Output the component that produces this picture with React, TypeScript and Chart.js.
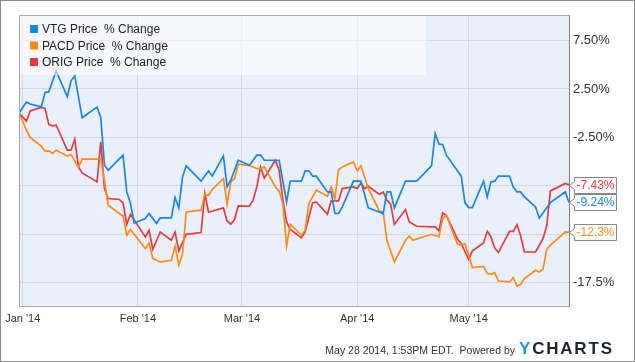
import React, { useEffect, useRef } from 'react';
import { Chart, registerables } from 'chart.js';

Chart.register(...registerables);

const FONT = '"Liberation Sans", Arial, Helvetica, sans-serif';

// x values are calendar days counted from Dec 31, 2013 (day 0)
const seriesNames = ['VTG Price  % Change', 'PACD Price  % Change', 'ORIG Price  % Change'];
const seriesColors = ['#1a86e4', '#ff8a12', '#e8393e'];
const endLabels = ['-9.24%', '-12.3%', '-7.43%'];

const monthTickDays = [1, 32, 60, 91, 121];
const monthTickLabels = ["Jan '14", "Feb '14", "Mar '14", "Apr '14", "May '14"];

const yTickValues = [-17.5, -12.5, -7.5, -2.5, 2.5, 7.5];
const yTickLabels = ['-17.5%', '-12.5%', '-7.50%', '-2.50%', '2.50%', '7.50%'];

const vtgDays = [0, 2, 3, 6, 7, 8, 10, 13, 14, 15, 17, 21, 22, 23, 24, 28, 29, 30, 31, 34, 35, 37, 38, 41, 42, 43, 44, 45, 49, 51, 52, 55, 56, 57, 59, 62, 64, 65, 66, 70, 72, 73, 76, 77, 78, 79, 80, 83, 84, 85, 86, 87, 90, 92, 94, 98, 99, 100, 101, 104, 107, 111, 112, 113, 114, 115, 119, 120, 121, 122, 125, 126, 127, 128, 129, 132, 133, 134, 135, 136, 139, 140, 143, 147, 148];
const vtgPct = [0, 1.14, 0.95, 0.65, 2.14, 2.2, 4.35, 1.69, 3.35, 3.86, -0.48, 0.62, -0.45, -5.38, -5.9, -4.35, -8.15, -9.35, -11.36, -10.9, -10.38, -11.42, -10.84, -10.84, -8.73, -9.8, -6.59, -5.45, -7.04, -5.97, -6.52, -4.42, -7.6, -6.94, -4.87, -5.38, -4.35, -4.35, -4.87, -4.87, -9.18, -7.04, -7.04, -5.97, -5.97, -6.52, -6.52, -8.15, -8.15, -10.38, -10.38, -9.7, -7.04, -7.04, -9.8, -10.38, -8.15, -8.15, -9.8, -7.04, -7.04, -5.45, -2.1, -3.21, -3.24, -4.35, -6.52, -9.25, -9.77, -9.77, -7.04, -8.66, -7.11, -7.04, -6.52, -6.52, -7.63, -8.15, -8.15, -8.66, -9.7, -10.87, -9.25, -8.15, -9.24];

const pacdDays = [0, 2, 3, 6, 7, 8, 9, 10, 13, 14, 16, 17, 22, 23, 24, 27, 28, 29, 30, 34, 35, 36, 38, 41, 42, 43, 44, 45, 49, 50, 51, 52, 55, 56, 57, 58, 59, 62, 64, 65, 66, 69, 70, 71, 72, 73, 76, 77, 78, 80, 83, 84, 85, 86, 87, 90, 91, 92, 94, 97, 98, 99, 101, 104, 105, 106, 111, 113, 114, 115, 118, 119, 120, 122, 125, 126, 127, 128, 129, 132, 133, 134, 135, 136, 139, 140, 141, 142, 143, 147, 148];
const pacdPct = [0, -1.76, -2.52, -3.42, -3.93, -3.9, -4.17, -3.83, -4.45, -4.28, -5.62, -4.76, -4.76, -7.0, -9.52, -10.38, -10.66, -12.63, -12.04, -14.0, -13.43, -15.04, -15.39, -15.22, -13.74, -15.73, -14.6, -10.22, -10.04, -8.42, -8.49, -7.9, -6.76, -9.42, -7.11, -6.76, -5.28, -5.42, -5.73, -5.73, -5.56, -7.63, -8.07, -9.35, -13.74, -11.49, -12.63, -12.11, -9.35, -7.97, -8.59, -7.63, -8.83, -5.83, -5.56, -5.04, -5.97, -5.45, -7.8, -10.14, -10.22, -13.15, -15.39, -13.15, -12.73, -13.15, -12.53, -12.8, -10.9, -10.56, -13.56, -13.66, -13.49, -15.97, -15.84, -16.59, -16.67, -16.49, -17.36, -17.46, -17.0, -17.88, -17.7, -17.11, -16.25, -16.43, -16.15, -14.11, -13.66, -12.29, -12.3];

const origDays = [0, 2, 3, 6, 7, 8, 9, 10, 13, 14, 15, 16, 17, 21, 22, 23, 24, 27, 28, 29, 30, 34, 35, 36, 38, 41, 42, 43, 45, 49, 50, 51, 55, 56, 57, 58, 59, 62, 63, 64, 65, 66, 69, 70, 71, 72, 73, 76, 77, 79, 80, 83, 84, 86, 87, 90, 91, 92, 93, 94, 97, 98, 99, 100, 101, 104, 105, 107, 111, 112, 113, 114, 115, 118, 119, 121, 122, 125, 126, 127, 128, 129, 132, 133, 134, 135, 136, 139, 140, 141, 142, 143, 147, 148];
const origPct = [0, -0.83, 0.24, 0.59, 0.49, -1.17, -1.31, -1.24, -3.83, -3.83, -2.69, -5.56, -6.18, -7.11, -2.97, -7.8, -8.83, -8.93, -9.28, -11.49, -10.46, -12.8, -12.11, -14.1, -12.29, -13.15, -12.29, -14.25, -12.53, -12.35, -8.31, -10.25, -9.8, -11.15, -11.49, -11.0, -9.6, -9.63, -9.0, -7.63, -5.56, -6.7, -4.87, -5.9, -9.0, -11.25, -12.04, -12.9, -12.29, -9.28, -9.18, -10.46, -9.08, -9.08, -7.8, -7.63, -7.8, -7.22, -7.8, -7.56, -8.42, -8.15, -9.0, -9.42, -11.52, -9.97, -11.25, -11.7, -11.77, -11.77, -12.18, -10.32, -10.56, -13.04, -13.49, -15.14, -14.25, -13.43, -12.22, -12.8, -13.94, -14.42, -12.22, -12.22, -11.52, -12.7, -14.36, -14.36, -13.66, -12.97, -11.67, -8.04, -7.28, -7.43];

const footerText = 'May 28 2014, 1:53PM EDT.  Powered by';

const toPoints = (days: number[], vals: number[]) => days.map((d, i) => ({ x: d, y: vals[i] }));

const decorPlugin = {
  id: 'decor',
  beforeDraw(chart: any) {
    const { ctx, chartArea: a, width, height } = chart;
    ctx.save();
    ctx.fillStyle = '#ffffff';
    ctx.fillRect(0, 0, width, height);
    ctx.fillStyle = '#eaf0fb';
    ctx.fillRect(a.left, a.top, a.right - a.left, a.bottom - a.top);
    ctx.restore();
  },
  afterDatasetsDraw(chart: any) {
    const { ctx, chartArea: a } = chart;
    ctx.save();
    // legend panel
    ctx.fillStyle = 'rgba(255,255,255,0.55)';
    ctx.fillRect(a.left, a.top, 407, 60);
    ctx.font = `12px ${FONT}`;
    ctx.textBaseline = 'alphabetic';
    ctx.textAlign = 'left';
    seriesNames.forEach((name, i) => {
      const base = a.top + 18 + i * 16.5;
      ctx.fillStyle = seriesColors[i];
      ctx.fillRect(a.left + 11, base - 8, 8, 8);
      ctx.fillStyle = '#222';
      ctx.fillText(name, a.left + 23, base);
    });
    // frame
    ctx.lineWidth = 1;
    ctx.strokeStyle = '#a8a8a8';
    ctx.beginPath();
    ctx.moveTo(a.left + 0.5, a.bottom);
    ctx.lineTo(a.left + 0.5, a.top + 0.5);
    ctx.lineTo(a.right, a.top + 0.5);
    ctx.moveTo(a.left, a.bottom - 0.5);
    ctx.lineTo(a.right, a.bottom - 0.5);
    ctx.stroke();
    ctx.strokeStyle = '#808080';
    ctx.beginPath();
    ctx.moveTo(a.right + 0.5, a.top);
    ctx.lineTo(a.right + 0.5, a.bottom);
    ctx.stroke();
    ctx.restore();
  },
  afterDraw(chart: any) {
    const { ctx, chartArea: a, width, height } = chart;
    const yScale = chart.scales.y;
    ctx.save();
    // end value flags
    ctx.font = `12px ${FONT}`;
    ctx.textBaseline = 'middle';
    ctx.textAlign = 'left';
    chart.data.datasets.forEach((ds: any, i: number) => {
      const last = ds.data[ds.data.length - 1];
      const cy = Math.round(yScale.getPixelForValue(last.y)) + 0.5;
      const x0 = a.right + 5.5;
      const w = 42;
      const h = 16;
      ctx.beginPath();
      ctx.moveTo(x0, cy - h / 2);
      ctx.lineTo(x0 + w, cy - h / 2);
      ctx.lineTo(x0 + w, cy + h / 2);
      ctx.lineTo(x0, cy + h / 2);
      ctx.lineTo(x0, cy + 4);
      ctx.lineTo(a.right + 0.5, cy);
      ctx.lineTo(x0, cy - 4);
      ctx.closePath();
      ctx.fillStyle = '#ffffff';
      ctx.fill();
      ctx.strokeStyle = '#888888';
      ctx.lineWidth = 1;
      ctx.stroke();
      ctx.fillStyle = seriesColors[i];
      ctx.fillText(endLabels[i], x0 + 2, cy + 0.5);
    });
    // footer
    ctx.font = `10.5px ${FONT}`;
    ctx.fillStyle = '#333';
    ctx.textAlign = 'right';
    ctx.textBaseline = 'alphabetic';
    ctx.fillText(footerText, 515, 354);
    // logo
    ctx.font = `bold 17px ${FONT}`;
    ctx.textAlign = 'left';
    let lx = 519;
    'YCHARTS'.split('').forEach((ch, i) => {
      ctx.fillStyle = i === 0 ? '#1e90e8' : '#1c2431';
      ctx.fillText(ch, lx, 354);
      lx += ctx.measureText(ch).width + 1.8;
    });
    // outer border
    ctx.strokeStyle = '#8c8c8c';
    ctx.lineWidth = 1;
    ctx.strokeRect(0.5, 0.5, width - 1, height - 1);
    ctx.restore();
  },
};

export default function App() {
  const ref = useRef<HTMLCanvasElement | null>(null);

  useEffect(() => {
    document.body.style.margin = '0';
    const canvas = ref.current;
    if (!canvas) return;
    const gridColor = '#d9d9d9';
    const chart = new Chart(canvas, {
      type: 'line',
      data: {
        datasets: [
          { label: seriesNames[0], data: toPoints(vtgDays, vtgPct), borderColor: seriesColors[0] },
          { label: seriesNames[1], data: toPoints(pacdDays, pacdPct), borderColor: seriesColors[1] },
          { label: seriesNames[2], data: toPoints(origDays, origPct), borderColor: seriesColors[2] },
        ],
      },
      options: {
        animation: false,
        responsive: false,
        maintainAspectRatio: false,
        devicePixelRatio: 1,
        layout: { padding: { left: 19, top: 15, right: 0, bottom: 0 } },
        plugins: { legend: { display: false }, tooltip: { enabled: false } },
        elements: {
          point: { radius: 0 },
          line: { borderWidth: 1.7, tension: 0, fill: false },
        },
        scales: {
          x: {
            type: 'linear',
            min: 0,
            max: 148,
            afterBuildTicks: (s: any) => {
              s.ticks = monthTickDays.map((v) => ({ value: v }));
            },
            afterFit: (s: any) => {
              s.height = 55;
            },
            grid: { color: gridColor, drawTicks: false },
            border: { display: false },
            ticks: {
              autoSkip: false,
              maxRotation: 0,
              padding: 5,
              color: '#333',
              font: { family: FONT, size: 11 },
              callback: (v: any) => {
                const k = monthTickDays.indexOf(Number(v));
                return k >= 0 ? monthTickLabels[k] : '';
              },
            },
          },
          y: {
            position: 'right',
            min: -20.05,
            max: 10.15,
            afterBuildTicks: (s: any) => {
              s.ticks = yTickValues.map((v) => ({ value: v }));
            },
            afterFit: (s: any) => {
              s.width = 66;
            },
            grid: { color: gridColor, drawTicks: false },
            border: { display: false },
            ticks: {
              padding: 4,
              color: '#333',
              font: { family: FONT, size: 13 },
              callback: (v: any) => {
                const k = yTickValues.indexOf(Number(v));
                return k >= 0 ? yTickLabels[k] : '';
              },
            },
          },
        },
      },
      plugins: [decorPlugin],
    } as any);
    return () => chart.destroy();
  }, []);

  return (
    <div style={{ width: 635, height: 362 }}>
      <canvas ref={ref} width={635} height={362} style={{ display: 'block', width: 635, height: 362 }} />
    </div>
  );
}
